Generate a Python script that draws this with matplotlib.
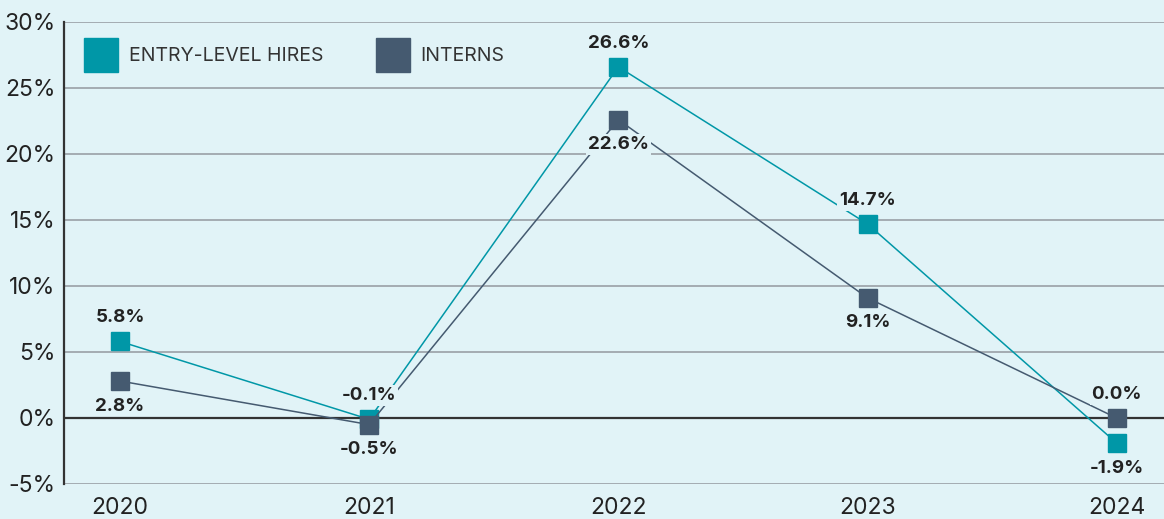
import matplotlib.pyplot as plt
from matplotlib.lines import Line2D

years = ['2020', '2021', '2022', '2023', '2024']
entry_level = [5.8, -0.1, 26.6, 14.7, -1.9]
interns = [2.8, -0.5, 22.6, 9.1, 0.0]
entry_pos = ['above', 'above', 'above', 'above', 'below']
intern_pos = ['below', 'below', 'below', 'below', 'above']

bg = '#e1f3f7'
teal = '#0097a7'
slate = '#455a70'
ink = '#222222'

plt.rcParams['font.family'] = ['Inter', 'DejaVu Sans']

fig = plt.figure(figsize=(11.64, 5.19), dpi=100, facecolor=bg)
ax = fig.add_axes([64 / 1164, 35 / 519, 1 - 64 / 1164, (484 - 22) / 519])
ax.set_facecolor(bg)

x = list(range(len(years)))
ax.plot(x, entry_level, color=teal, lw=1.1, marker='s', ms=13, zorder=3)
ax.plot(x, interns, color=slate, lw=1.1, marker='s', ms=13, zorder=3)


def label(xi, v, p):
    off = 17 if p == 'above' else -18
    ax.annotate(f'{v:.1f}%', (xi, v), xytext=(0, off), textcoords='offset points',
                ha='center', va='center', fontsize=13.5, fontweight='bold', color=ink,
                bbox=dict(boxstyle='square,pad=0.1', fc=bg, ec='none'), zorder=5)


for xi, v, p in zip(x, entry_level, entry_pos):
    label(xi, v, p)
for xi, v, p in zip(x, interns, intern_pos):
    label(xi, v, p)

ax.set_ylim(-5, 30)
ax.set_xlim(-0.225, 4.19)
ax.set_yticks(range(-5, 31, 5))
ax.set_yticklabels([f'{t}%' for t in range(-5, 31, 5)])
ax.set_xticks(x)
ax.set_xticklabels(years)
ax.tick_params(length=0, labelsize=16.5, colors=ink)
ax.tick_params(axis='y', pad=6)
ax.tick_params(axis='x', pad=9)

ax.grid(axis='y', color='#9aa0a6', lw=1.2, zorder=0)
ax.set_axisbelow(True)
ax.axhline(0, color='#333333', lw=1.6, zorder=2)
for s in ['top', 'right', 'bottom']:
    ax.spines[s].set_visible(False)
ax.spines['left'].set_color('#333333')
ax.spines['left'].set_linewidth(1.6)

handles = [Line2D([], [], ls='none', marker='s', ms=24, color=teal),
           Line2D([], [], ls='none', marker='s', ms=24, color=slate)]
ax.legend(handles, ['ENTRY-LEVEL HIRES', 'INTERNS'], loc='upper left', ncol=2,
          frameon=False, prop={'size': 14}, labelcolor='#333333',
          handletextpad=0.6, columnspacing=2.8, bbox_to_anchor=(0.004, 0.983),
          handlelength=1.6)

fig.savefig('out.png', dpi=100, facecolor=bg)
